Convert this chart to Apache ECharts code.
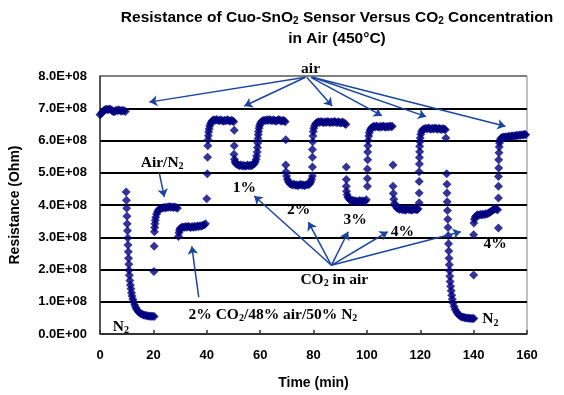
<!DOCTYPE html>
<html>
<head>
<meta charset="utf-8">
<script src="https://cdn.jsdelivr.net/npm/echarts@6/dist/echarts.min.js"></script>
<style>
  html, body { margin: 0; padding: 0; background: #fff; }
  #chart { width: 564px; height: 395px; }
</style>
</head>
<body>
<div id="chart"></div>
<script>
// time (min), resistance (x 1E+08 Ohm)
var air1 = [[0,6.80],[0.5,6.84],[1,6.88],[1.5,6.93],[2,6.96],[2.5,6.97],[3,6.95],[3.5,6.98],[4,6.96],[4.5,6.93],[5,6.89],[5.5,6.90],[6,6.94],[6.5,6.92],[7,6.95],[7.5,6.93],[8,6.91],[8.5,6.94],[9,6.92],[9.5,6.90]];
var n2a = [[9.8,4.40],[9.9,4.15],[10.0,3.90],[10.1,3.65],[10.2,3.42],[10.3,3.20],[10.4,2.98],[10.5,2.76],[10.6,2.55],[10.7,2.35],[10.8,2.16],[10.9,1.98],[11.0,1.82],[11.2,1.66],[11.4,1.52],[11.6,1.40],[11.8,1.28],[12.0,1.18],[12.3,1.08],[12.6,0.99],[13.0,0.90],[13.4,0.82],[13.8,0.76],[14.3,0.70],[14.8,0.66],[15.3,0.63],[15.8,0.61],[16.3,0.59],[16.8,0.58],[17.3,0.57],[17.8,0.56],[18.3,0.56],[18.8,0.55],[19.3,0.55],[19.8,0.55],[20.3,0.54]];
var mix1 = [[20.2,1.94],[20.3,2.72],[20.4,3.17],[20.5,3.30],[20.6,3.42],[20.7,3.53],[20.9,3.62],[21.2,3.72],[21.6,3.80],[22.0,3.85],[22.5,3.88],[23,3.90],[23.5,3.91],[24,3.93],[24.5,3.91],[25,3.94],[25.5,3.92],[26,3.95],[26.5,3.93],[27,3.94],[27.5,3.92],[28,3.94],[28.5,3.92],[29,3.90]];
var mix2 = [[29.4,3.02],[29.6,3.14],[29.8,3.22],[30.0,3.27],[30.5,3.30],[31,3.32],[31.5,3.30],[32,3.33],[32.5,3.31],[33,3.34],[33.5,3.32],[34,3.30],[34.5,3.33],[35,3.31],[35.5,3.34],[36,3.32],[36.5,3.35],[37,3.33],[37.5,3.36],[38,3.34],[38.5,3.37],[39,3.38],[39.5,3.42]];
var air2 = [[40.0,4.19],[40.2,4.97],[40.3,5.48],[40.4,5.84],[40.5,6.02],[40.6,6.15],[40.7,6.26],[40.9,6.36],[41.1,6.45],[41.4,6.52],[41.8,6.58],[42.2,6.62],[42.7,6.64],[43.2,6.62],[43.7,6.65],[44.2,6.63],[44.7,6.61],[45.2,6.64],[45.7,6.62],[46.2,6.60],[46.7,6.63],[47.2,6.61],[47.7,6.64],[48.2,6.62],[48.7,6.60],[49.2,6.63],[49.7,6.61],[50.1,6.58]];
var co2a = [[50.3,6.32],[50.3,5.84],[50.2,5.57],[50.4,5.42],[50.6,5.34],[50.9,5.29],[51.3,5.26],[51.8,5.24],[52.3,5.22],[52.8,5.25],[53.3,5.21],[53.8,5.23],[54.3,5.20],[54.8,5.22],[55.3,5.24],[55.8,5.21],[56.3,5.23],[56.8,5.22],[57.3,5.25],[57.8,5.28],[58.2,5.34],[58.5,5.42],[58.7,5.52],[58.9,5.64]];
var air3 = [[59.0,5.78],[59.1,5.92],[59.2,6.06],[59.3,6.18],[59.4,6.28],[59.6,6.38],[59.8,6.46],[60.1,6.53],[60.5,6.58],[61.0,6.61],[61.5,6.63],[62.0,6.61],[62.5,6.64],[63.0,6.62],[63.5,6.65],[64.0,6.63],[64.5,6.61],[65.0,6.64],[65.5,6.62],[66.0,6.60],[66.5,6.63],[67.0,6.65],[67.5,6.62],[68.0,6.60],[68.5,6.63],[69.0,6.61],[69.4,6.58]];
var co2b = [[69.6,6.02],[69.6,5.24],[69.7,5.03],[69.9,4.90],[70.2,4.80],[70.6,4.72],[71.1,4.67],[71.6,4.64],[72.1,4.62],[72.6,4.65],[73.1,4.61],[73.6,4.63],[74.1,4.60],[74.6,4.62],[75.1,4.64],[75.6,4.61],[76.1,4.63],[76.6,4.60],[77.1,4.62],[77.6,4.64],[78.1,4.63],[78.6,4.66],[79.0,4.72],[79.3,4.80]];
var air4 = [[79.6,4.90],[79.6,5.18],[79.6,5.48],[79.6,5.72],[79.7,5.96],[79.8,6.14],[79.9,6.28],[80.1,6.38],[80.4,6.46],[80.8,6.52],[81.3,6.56],[81.8,6.58],[82.3,6.56],[82.8,6.59],[83.3,6.57],[83.8,6.55],[84.3,6.58],[84.8,6.56],[85.3,6.59],[85.8,6.57],[86.3,6.55],[86.8,6.58],[87.3,6.56],[87.8,6.59],[88.3,6.57],[88.8,6.55],[89.3,6.58],[89.8,6.56],[90.3,6.54],[90.8,6.57],[91.3,6.55],[91.8,6.53],[92.1,6.50]];
var co2c = [[92.3,5.18],[92.3,4.79],[92.3,4.58],[92.4,4.43],[92.6,4.32],[92.9,4.24],[93.3,4.19],[93.8,4.15],[94.3,4.13],[94.8,4.15],[95.3,4.11],[95.8,4.13],[96.3,4.10],[96.8,4.12],[97.3,4.14],[97.8,4.11],[98.3,4.13],[98.8,4.10],[99.3,4.12],[99.8,4.16]];
var air5 = [[100.2,4.58],[100.2,4.82],[100.2,5.12],[100.3,5.40],[100.3,5.64],[100.4,5.84],[100.5,6.00],[100.7,6.14],[100.9,6.24],[101.2,6.32],[101.6,6.38],[102.1,6.42],[102.6,6.44],[103.1,6.42],[103.6,6.45],[104.1,6.43],[104.6,6.41],[105.1,6.44],[105.6,6.42],[106.1,6.45],[106.6,6.43],[107.1,6.41],[107.6,6.44],[108.1,6.42],[108.6,6.45],[109.1,6.43],[109.5,6.44]];
var co2d = [[109.8,5.24],[109.8,4.58],[109.9,4.36],[110.1,4.18],[110.4,4.05],[110.8,3.96],[111.3,3.91],[111.8,3.88],[112.3,3.86],[112.8,3.89],[113.3,3.85],[113.8,3.87],[114.3,3.84],[114.8,3.86],[115.3,3.88],[115.8,3.85],[116.3,3.87],[116.8,3.84],[117.3,3.86],[117.8,3.88],[118.3,3.86],[118.8,3.85],[119.2,3.88]];
var air6 = [[119.6,4.07],[119.6,4.37],[119.6,4.73],[119.6,5.03],[119.7,5.27],[119.7,5.47],[119.8,5.65],[119.8,5.82],[119.9,5.96],[120.0,6.08],[120.2,6.19],[120.5,6.28],[120.9,6.33],[121.4,6.36],[122.0,6.38],[122.5,6.36],[123.0,6.39],[123.5,6.37],[124.0,6.35],[124.5,6.38],[125.0,6.36],[125.5,6.39],[126.0,6.37],[126.5,6.35],[127.0,6.38],[127.5,6.36],[128.0,6.34],[128.5,6.37],[129.0,6.35],[129.4,6.33]];
var n2b = [[129.6,6.08],[129.9,4.97],[130.0,4.64],[130.0,4.37],[130.1,4.10],[130.2,3.83],[130.3,3.56],[130.4,3.30],[130.5,3.05],[130.6,2.80],[130.7,2.57],[130.8,2.35],[130.9,2.15],[131.0,1.96],[131.1,1.79],[131.2,1.63],[131.4,1.48],[131.6,1.34],[131.8,1.20],[132.0,1.08],[132.3,0.96],[132.7,0.85],[133.1,0.76],[133.6,0.68],[134.1,0.62],[134.6,0.58],[135.1,0.55],[135.6,0.53],[136.1,0.52],[136.6,0.51],[137.1,0.50],[137.6,0.50],[138.1,0.49],[138.6,0.49],[139.1,0.48],[139.6,0.48],[140.1,0.48]];
var mix3 = [[140.0,1.83],[140.0,3.08],[140.1,3.44],[140.3,3.56],[140.6,3.63],[141.0,3.67],[141.5,3.70],[142.0,3.68],[142.5,3.71],[143.0,3.69],[143.5,3.72],[144.0,3.70],[144.5,3.73],[145.0,3.72],[145.5,3.75],[146.0,3.77],[146.5,3.80],[147.0,3.83],[147.5,3.86],[148.0,3.88],[148.5,3.87],[149.0,3.85]];
var air7 = [[149.3,3.29],[149.3,4.22],[149.3,4.58],[149.3,4.88],[149.4,5.15],[149.4,5.40],[149.5,5.62],[149.6,5.80],[149.7,5.92],[149.9,6.01],[150.2,6.06],[150.6,6.09],[151.1,6.11],[151.6,6.10],[152.1,6.12],[152.6,6.11],[153.1,6.13],[153.6,6.12],[154.1,6.14],[154.6,6.13],[155.1,6.15],[155.6,6.14],[156.1,6.16],[156.6,6.15],[157.1,6.17],[157.6,6.16],[158.1,6.18],[158.6,6.17],[159.1,6.19],[159.5,6.18]];

// annotation arrows: [from, to] in data coords
var airArrows = [
  [[77.0,7.96],[18.5,7.19]],
  [[77.0,7.96],[54.1,7.07]],
  [[77.5,7.96],[87.0,7.07]],
  [[79.0,7.96],[105.6,6.77]],
  [[79.6,7.96],[122.2,6.74]],
  [[79.6,7.96],[151.9,6.44]]
];
var co2Arrows = [
  [[86.7,2.13],[57.8,4.28]],
  [[86.7,2.13],[78.1,3.47]],
  [[86.7,2.13],[93.0,3.17]],
  [[86.7,2.13],[107.8,3.17]],
  [[86.7,2.13],[135.2,3.17]]
];
var otherArrows = [
  [[22.2,5.00],[24.1,4.25]],
  [[37.0,1.14],[34.4,2.72]]
];
// annotation labels: [text, t, v]
var labels = [
  ['{t|air}', 78.9, 8.23],
  ['{t|Air/N}{s|2}', 23.3, 5.30],
  ['{t|1%}', 54.1, 4.52],
  ['{t|2%}', 74.4, 3.86],
  ['{t|3%}', 95.6, 3.53],
  ['{t|4%}', 113.3, 3.17],
  ['{t|4%}', 148.1, 2.78],
  ['{t|CO}{s|2}{t| in air}', 87.8, 1.68],
  ['{t|2% CO}{s|2}{t|/48% air/50% N}{s|2}', 64.8, 0.60],
  ['{t|N}{s|2}', 7.8, 0.21],
  ['{t|N}{s|2}', 146.3, 0.45]
];

var points = [].concat(air1, n2a, mix1, mix2, air2, co2a, air3, co2b, air4, co2c, air5, co2d, air6, n2b, mix3, air7);

var chart = echarts.init(document.getElementById('chart'));
var arrowColor = '#1a45a0';

function toLines(list) {
  return list.map(function (a) {
    return [{ coord: a[0] }, { coord: a[1] }];
  });
}

chart.setOption({
  animation: false,
  backgroundColor: '#fff',
  grid: {
    left: 97, right: 37, top: 76, bottom: 52,
    show: true, borderColor: '#808080', borderWidth: 1
  },
  xAxis: {
    type: 'value', min: 0, max: 160, interval: 20,
    name: 'Time (min)', nameLocation: 'middle', nameGap: 42,
    nameTextStyle: { fontFamily: 'Liberation Sans', fontWeight: 'bold', fontSize: 14, color: '#000' },
    axisLine: { lineStyle: { color: '#333', width: 1.5 } },
    axisTick: { inside: true, length: 4, lineStyle: { color: '#333', width: 1.5 } },
    axisLabel: { fontFamily: 'Liberation Sans', fontWeight: 'bold', fontSize: 13, color: '#000', margin: 15 },
    splitLine: { show: false }
  },
  yAxis: {
    type: 'value', min: 0, max: 8, interval: 1,
    name: 'Resistance (Ohm)', nameLocation: 'middle', nameGap: 78,
    nameTextStyle: { fontFamily: 'Liberation Sans', fontWeight: 'bold', fontSize: 14, color: '#000' },
    axisLine: { show: true, lineStyle: { color: '#333', width: 1.5 } },
    axisTick: { show: false },
    axisLabel: {
      fontFamily: 'Liberation Sans', fontWeight: 'bold', fontSize: 13, color: '#000', margin: 13,
      formatter: function (v) { return v === 0 ? '0.0E+00' : v.toFixed(1) + 'E+08'; }
    },
    splitLine: {
      show: true,
      lineStyle: { color: ['#333', '#000', '#000', '#000', '#000', '#000', '#000', '#000', '#808080'], width: 2 }
    }
  },
  series: [{
    type: 'scatter',
    data: points,
    symbol: 'diamond',
    symbolSize: 9,
    itemStyle: { color: '#000080' },
    silent: true,
    markLine: {
      silent: true,
      symbol: ['none', 'arrow'],
      symbolSize: 8,
      label: { show: false },
      lineStyle: { color: arrowColor, width: 1.5, type: 'solid' },
      data: toLines(airArrows).concat(toLines(co2Arrows), toLines(otherArrows))
    }
  }]
});

var textStyleRich = {
  t: { fontFamily: 'Liberation Serif', fontWeight: 'bold', fontSize: 15.5, fill: '#000' },
  s: { fontFamily: 'Liberation Serif', fontWeight: 'bold', fontSize: 10, fill: '#000', padding: [7, 0, 0, 0] }
};
var titleRich = {
  b: { fontFamily: 'Liberation Sans', fontWeight: 'bold', fontSize: 15.5, fill: '#000' },
  s: { fontFamily: 'Liberation Sans', fontWeight: 'bold', fontSize: 10, fill: '#000', padding: [7, 0, 0, 0] }
};

var graphics = labels.map(function (l) {
  var p = chart.convertToPixel({ gridIndex: 0 }, [l[1], l[2]]);
  return {
    type: 'text', x: p[0], y: p[1], silent: true,
    style: { text: l[0], align: 'center', verticalAlign: 'middle', rich: textStyleRich }
  };
});
graphics.push({
  type: 'text', x: 337, y: 7, silent: true,
  style: {
    text: '{b|Resistance of Cuo-SnO}{s|2}{b| Sensor Versus CO}{s|2}{b| Concentration}\n{b|in Air (450°C)}',
    align: 'center', verticalAlign: 'top', lineHeight: 21, rich: titleRich
  }
});
chart.setOption({ graphic: graphics });
</script>
</body>
</html>
